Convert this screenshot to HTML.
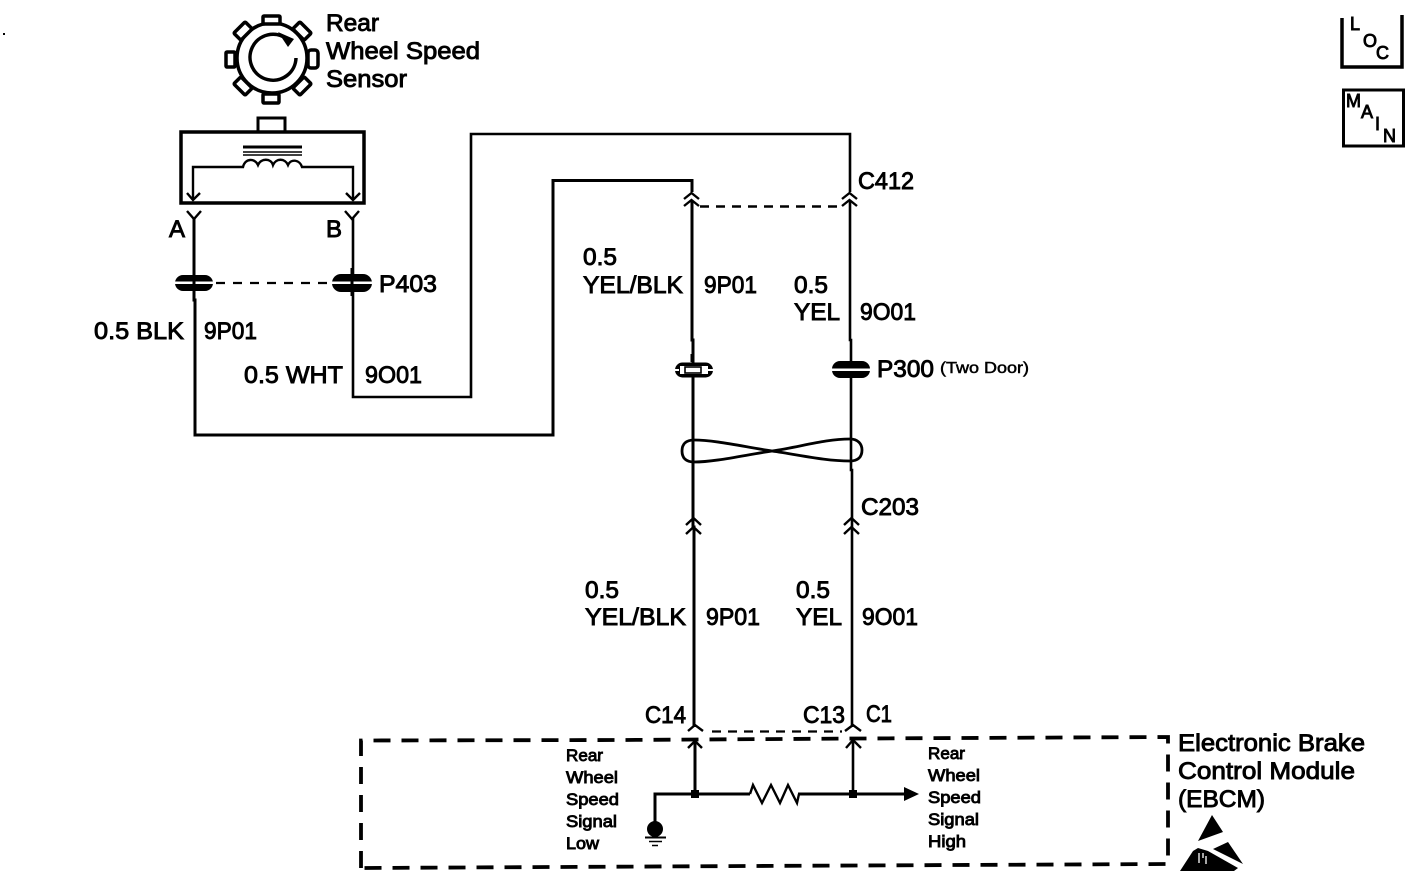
<!DOCTYPE html>
<html>
<head>
<meta charset="utf-8">
<style>
html,body{margin:0;padding:0;background:#fff;width:1424px;height:878px;overflow:hidden}
svg{display:block}
text{font-family:"Liberation Sans",sans-serif;fill:#000;stroke:#000;stroke-width:.9;font-size:24px}
.s{font-size:17px;stroke-width:.9}
.m{font-size:18px;stroke-width:.9}
.w{fill:none;stroke:#000;stroke-width:3}
.t{fill:none;stroke:#000;stroke-width:2.4}
</style>
</head>
<body>
<svg width="1424" height="878" viewBox="0 0 1424 878" xmlns="http://www.w3.org/2000/svg">
<rect x="3" y="33" width="2" height="2" fill="#000"/>

<!-- sensor wheel -->
<circle cx="272" cy="58" r="35" fill="#fff" stroke="#000" stroke-width="3.500"/>
<path d="M287 39A23 23 0 1 0 296 58" fill="none" stroke="#000" stroke-width="3.500"/>
<path d="M278 32L294 39L288 47Z" fill="#000"/>
<g fill="#fff" stroke="#000" stroke-width="3.500">
<rect x="263" y="16" width="17" height="8" rx="1"/>
<rect x="263" y="94" width="16" height="9" rx="1"/>
<rect x="226" y="52" width="9" height="15" rx="1"/>
<rect x="308" y="50" width="10" height="18" rx="3"/>
<rect x="235" y="26" width="16" height="10" rx="1" transform="rotate(-45 243 31)"/>
<rect x="294" y="26" width="16" height="10" rx="1" transform="rotate(45 302 31)"/>
<rect x="235" y="81" width="16" height="10" rx="1" transform="rotate(45 243 86)"/>
<rect x="294" y="81" width="16" height="10" rx="1" transform="rotate(-45 302 86)"/>
</g>

<!-- sensor box -->
<rect x="181" y="132" width="183" height="71" fill="none" stroke="#000" stroke-width="3.500"/>
<path d="M258 132V118H285V132" class="w"/>
<path d="M243 147H302" stroke="#000" stroke-width="3"/>
<path d="M243 152H302M243 155H302" stroke="#000" stroke-width="1.500"/>
<path d="M193 200V167H243C245 158 255 158 258 165C261 158 271 158 273 165C276 158 285 158 288 165C291 158 300 160 302 167H353V200" class="t"/>
<path d="M187 193L193 200L200 193M346 193L353 200L360 193" class="t"/>

<!-- Y terminals -->
<path d="M187 211L194 219L201 211M345 211L352 219L359 211" class="t"/>
<path d="M194 218V300H195V435H553V180.500H692V192" class="w"/>
<path d="M353 218V397H471V134H850V192" fill="none" stroke="#000" stroke-width="2.600"/>

<!-- P403 -->
<rect x="175" y="275" width="38" height="16" rx="8" fill="#000"/>
<rect x="175" y="281.500" width="38" height="2.500" fill="#fff"/>
<rect x="332" y="274" width="40" height="18" rx="9" fill="#000"/>
<rect x="332" y="281.500" width="40" height="2.500" fill="#fff"/>
<path d="M194 268V296M352 268V296" stroke="#000" stroke-width="3"/>
<path d="M216 283H330" stroke="#000" stroke-width="2.200" stroke-dasharray="9 8"/>

<!-- C412 chevrons -->
<path d="M684 199L691.500 193L699 199M842 199L849.500 193L857 199" class="t"/>
<path d="M684 206L691.500 200L699 206M842 206L849.500 200L857 206" class="t"/>
<path d="M700 206.500H842" stroke="#000" stroke-width="2.400" stroke-dasharray="9 7"/>

<!-- vertical harness -->
<path d="M692 200V340H693V527H694V727" class="w" stroke-width="3"/>
<path d="M850 200V340H851V470H852V727" fill="none" stroke="#000" stroke-width="2.600"/>

<!-- open connector + P300 -->
<rect x="675" y="362.500" width="38" height="15" rx="7.500" fill="#000"/>
<rect x="680" y="366" width="28" height="8" fill="#fff"/>
<rect x="685" y="367" width="16" height="6" fill="#fff" stroke="#000" stroke-width="1.600"/>
<rect x="673" y="369" width="6" height="2" fill="#fff"/>
<rect x="708" y="369" width="6" height="2" fill="#fff"/>
<rect x="690.500" y="354" width="3" height="8" fill="#000"/>
<rect x="832" y="361" width="38" height="17" rx="8" fill="#000"/>
<rect x="832" y="368.500" width="38" height="2.500" fill="#fff"/>

<!-- twist -->
<path d="M772 451C745 447 715 440 694 440C686 440 682 444 682 451C682 458 686 462 694 462C715 462 745 455 772 451C800 447 825 439 850 439C858 439 862 444 862 450C862 457 858 461 850 461C825 461 800 455 772 451Z" fill="none" stroke="#000" stroke-width="2.800"/>

<!-- C203 chevrons -->
<path d="M686 525L693.500 518L701 525M844 525L851.500 518L859 525" class="t"/>
<path d="M686 534L693.500 527L701 534M844 534L851.500 527L859 534" class="t"/>

<!-- C14/C13 top terminals -->
<path d="M688 731L695 725L703 731M845 731L853 725L861 731" class="t"/>
<path d="M712 731.500H842" stroke="#000" stroke-width="2.200" stroke-dasharray="9 7"/>

<!-- EBCM dashed box -->
<path d="M361 868V740.500L620 740L860 738.500L1168 737V864L750 866L361 868" fill="none" stroke="#000" stroke-width="3.800" stroke-dasharray="17 11"/>

<!-- internal -->
<path d="M688 748L695 741L702 748M846 748L853 740L861 748" class="t"/>
<path d="M695 741V794" class="w"/>
<path d="M853 740V794" fill="none" stroke="#000" stroke-width="2.600"/>
<path d="M655 822V794H750" class="w"/>
<path d="M750 794L753 785L762 803L771 785L780 803L788 785L797 803L799 794" class="t"/>
<path d="M798 794H906" class="w"/>
<path d="M904 787L919 794L904 801Z" fill="#000"/>
<rect x="691" y="790" width="8" height="8" fill="#000"/>
<rect x="849" y="790" width="8" height="8" fill="#000"/>
<circle cx="655" cy="829" r="8" fill="#000"/>
<path d="M645 837.500H666" stroke="#000" stroke-width="2"/>
<path d="M649 841.500H662" stroke="#000" stroke-width="1.500"/>
<path d="M652 845.500H658" stroke="#000" stroke-width="1.500"/>

<!-- ESD -->
<path d="M1212 815L1223 832L1198 841Z" fill="#000"/>
<path d="M1228 842L1243 864L1213 849Z" fill="#000"/>
<path d="M1193 851L1180 871L1234 871L1238 868L1208 851L1198 848Z" fill="#000"/>
<path d="M1199 853V863M1203 853V858M1206 856V864" stroke="#fff" stroke-width="1.300"/>

<!-- LOC -->
<path d="M1342 18V67H1402V15" fill="none" stroke="#000" stroke-width="3.500"/>
<text class="m" x="1350" y="30">L</text>
<text class="m" x="1363" y="47">O</text>
<text class="m" x="1376" y="59">C</text>
<!-- MAIN -->
<rect x="1343.500" y="90" width="60" height="56" fill="none" stroke="#000" stroke-width="3"/>
<text class="m" x="1346" y="107">M</text>
<text class="m" x="1361" y="118">A</text>
<text class="m" x="1375" y="130">I</text>
<text class="m" x="1383" y="142">N</text>

<!-- labels -->
<text lengthAdjust="spacingAndGlyphs" x="326" y="31" textLength="53">Rear</text>
<text lengthAdjust="spacingAndGlyphs" x="326" y="59" textLength="154">Wheel Speed</text>
<text lengthAdjust="spacingAndGlyphs" x="326" y="87" textLength="81">Sensor</text>
<text x="169" y="237">A</text>
<text x="326" y="237">B</text>
<text lengthAdjust="spacingAndGlyphs" x="379" y="292" textLength="58">P403</text>
<text lengthAdjust="spacingAndGlyphs" x="94" y="339" textLength="90">0.5 BLK</text>
<text lengthAdjust="spacingAndGlyphs" x="204" y="339" textLength="53">9P01</text>
<text lengthAdjust="spacingAndGlyphs" x="244" y="383" textLength="99">0.5 WHT</text>
<text lengthAdjust="spacingAndGlyphs" x="365" y="383" textLength="57">9O01</text>
<text lengthAdjust="spacingAndGlyphs" x="858" y="189" textLength="56">C412</text>
<text lengthAdjust="spacingAndGlyphs" x="583" y="265" textLength="34">0.5</text>
<text lengthAdjust="spacingAndGlyphs" x="583" y="293" textLength="100">YEL/BLK</text>
<text lengthAdjust="spacingAndGlyphs" x="704" y="293" textLength="53">9P01</text>
<text lengthAdjust="spacingAndGlyphs" x="794" y="293" textLength="34">0.5</text>
<text lengthAdjust="spacingAndGlyphs" x="794" y="320" textLength="46">YEL</text>
<text lengthAdjust="spacingAndGlyphs" x="860" y="320" textLength="56">9O01</text>
<text lengthAdjust="spacingAndGlyphs" x="877" y="377" textLength="57">P300</text>
<text lengthAdjust="spacingAndGlyphs" x="940" y="373" textLength="89" style="font-size:16px;stroke-width:.5">(Two Door)</text>
<text lengthAdjust="spacingAndGlyphs" x="861" y="515" textLength="58">C203</text>
<text lengthAdjust="spacingAndGlyphs" x="585" y="598" textLength="34">0.5</text>
<text lengthAdjust="spacingAndGlyphs" x="585" y="625" textLength="101">YEL/BLK</text>
<text lengthAdjust="spacingAndGlyphs" x="706" y="625" textLength="54">9P01</text>
<text lengthAdjust="spacingAndGlyphs" x="796" y="598" textLength="34">0.5</text>
<text lengthAdjust="spacingAndGlyphs" x="796" y="625" textLength="46">YEL</text>
<text lengthAdjust="spacingAndGlyphs" x="862" y="625" textLength="56">9O01</text>
<text lengthAdjust="spacingAndGlyphs" x="645" y="723" textLength="41">C14</text>
<text lengthAdjust="spacingAndGlyphs" x="803" y="723" textLength="42">C13</text>
<text lengthAdjust="spacingAndGlyphs" x="866" y="722" textLength="26">C1</text>

<text lengthAdjust="spacingAndGlyphs" class="s" x="566" y="761" textLength="37">Rear</text>
<text lengthAdjust="spacingAndGlyphs" class="s" x="566" y="783" textLength="52">Wheel</text>
<text lengthAdjust="spacingAndGlyphs" class="s" x="566" y="805" textLength="53">Speed</text>
<text lengthAdjust="spacingAndGlyphs" class="s" x="566" y="827" textLength="51">Signal</text>
<text lengthAdjust="spacingAndGlyphs" class="s" x="566" y="849" textLength="33">Low</text>

<text lengthAdjust="spacingAndGlyphs" class="s" x="928" y="759" textLength="37">Rear</text>
<text lengthAdjust="spacingAndGlyphs" class="s" x="928" y="781" textLength="52">Wheel</text>
<text lengthAdjust="spacingAndGlyphs" class="s" x="928" y="803" textLength="53">Speed</text>
<text lengthAdjust="spacingAndGlyphs" class="s" x="928" y="825" textLength="51">Signal</text>
<text lengthAdjust="spacingAndGlyphs" class="s" x="928" y="847" textLength="38">High</text>

<text lengthAdjust="spacingAndGlyphs" x="1178" y="751" textLength="187">Electronic Brake</text>
<text lengthAdjust="spacingAndGlyphs" x="1178" y="779" textLength="177">Control Module</text>
<text lengthAdjust="spacingAndGlyphs" x="1178" y="807" textLength="87">(EBCM)</text>
</svg>
</body>
</html>
